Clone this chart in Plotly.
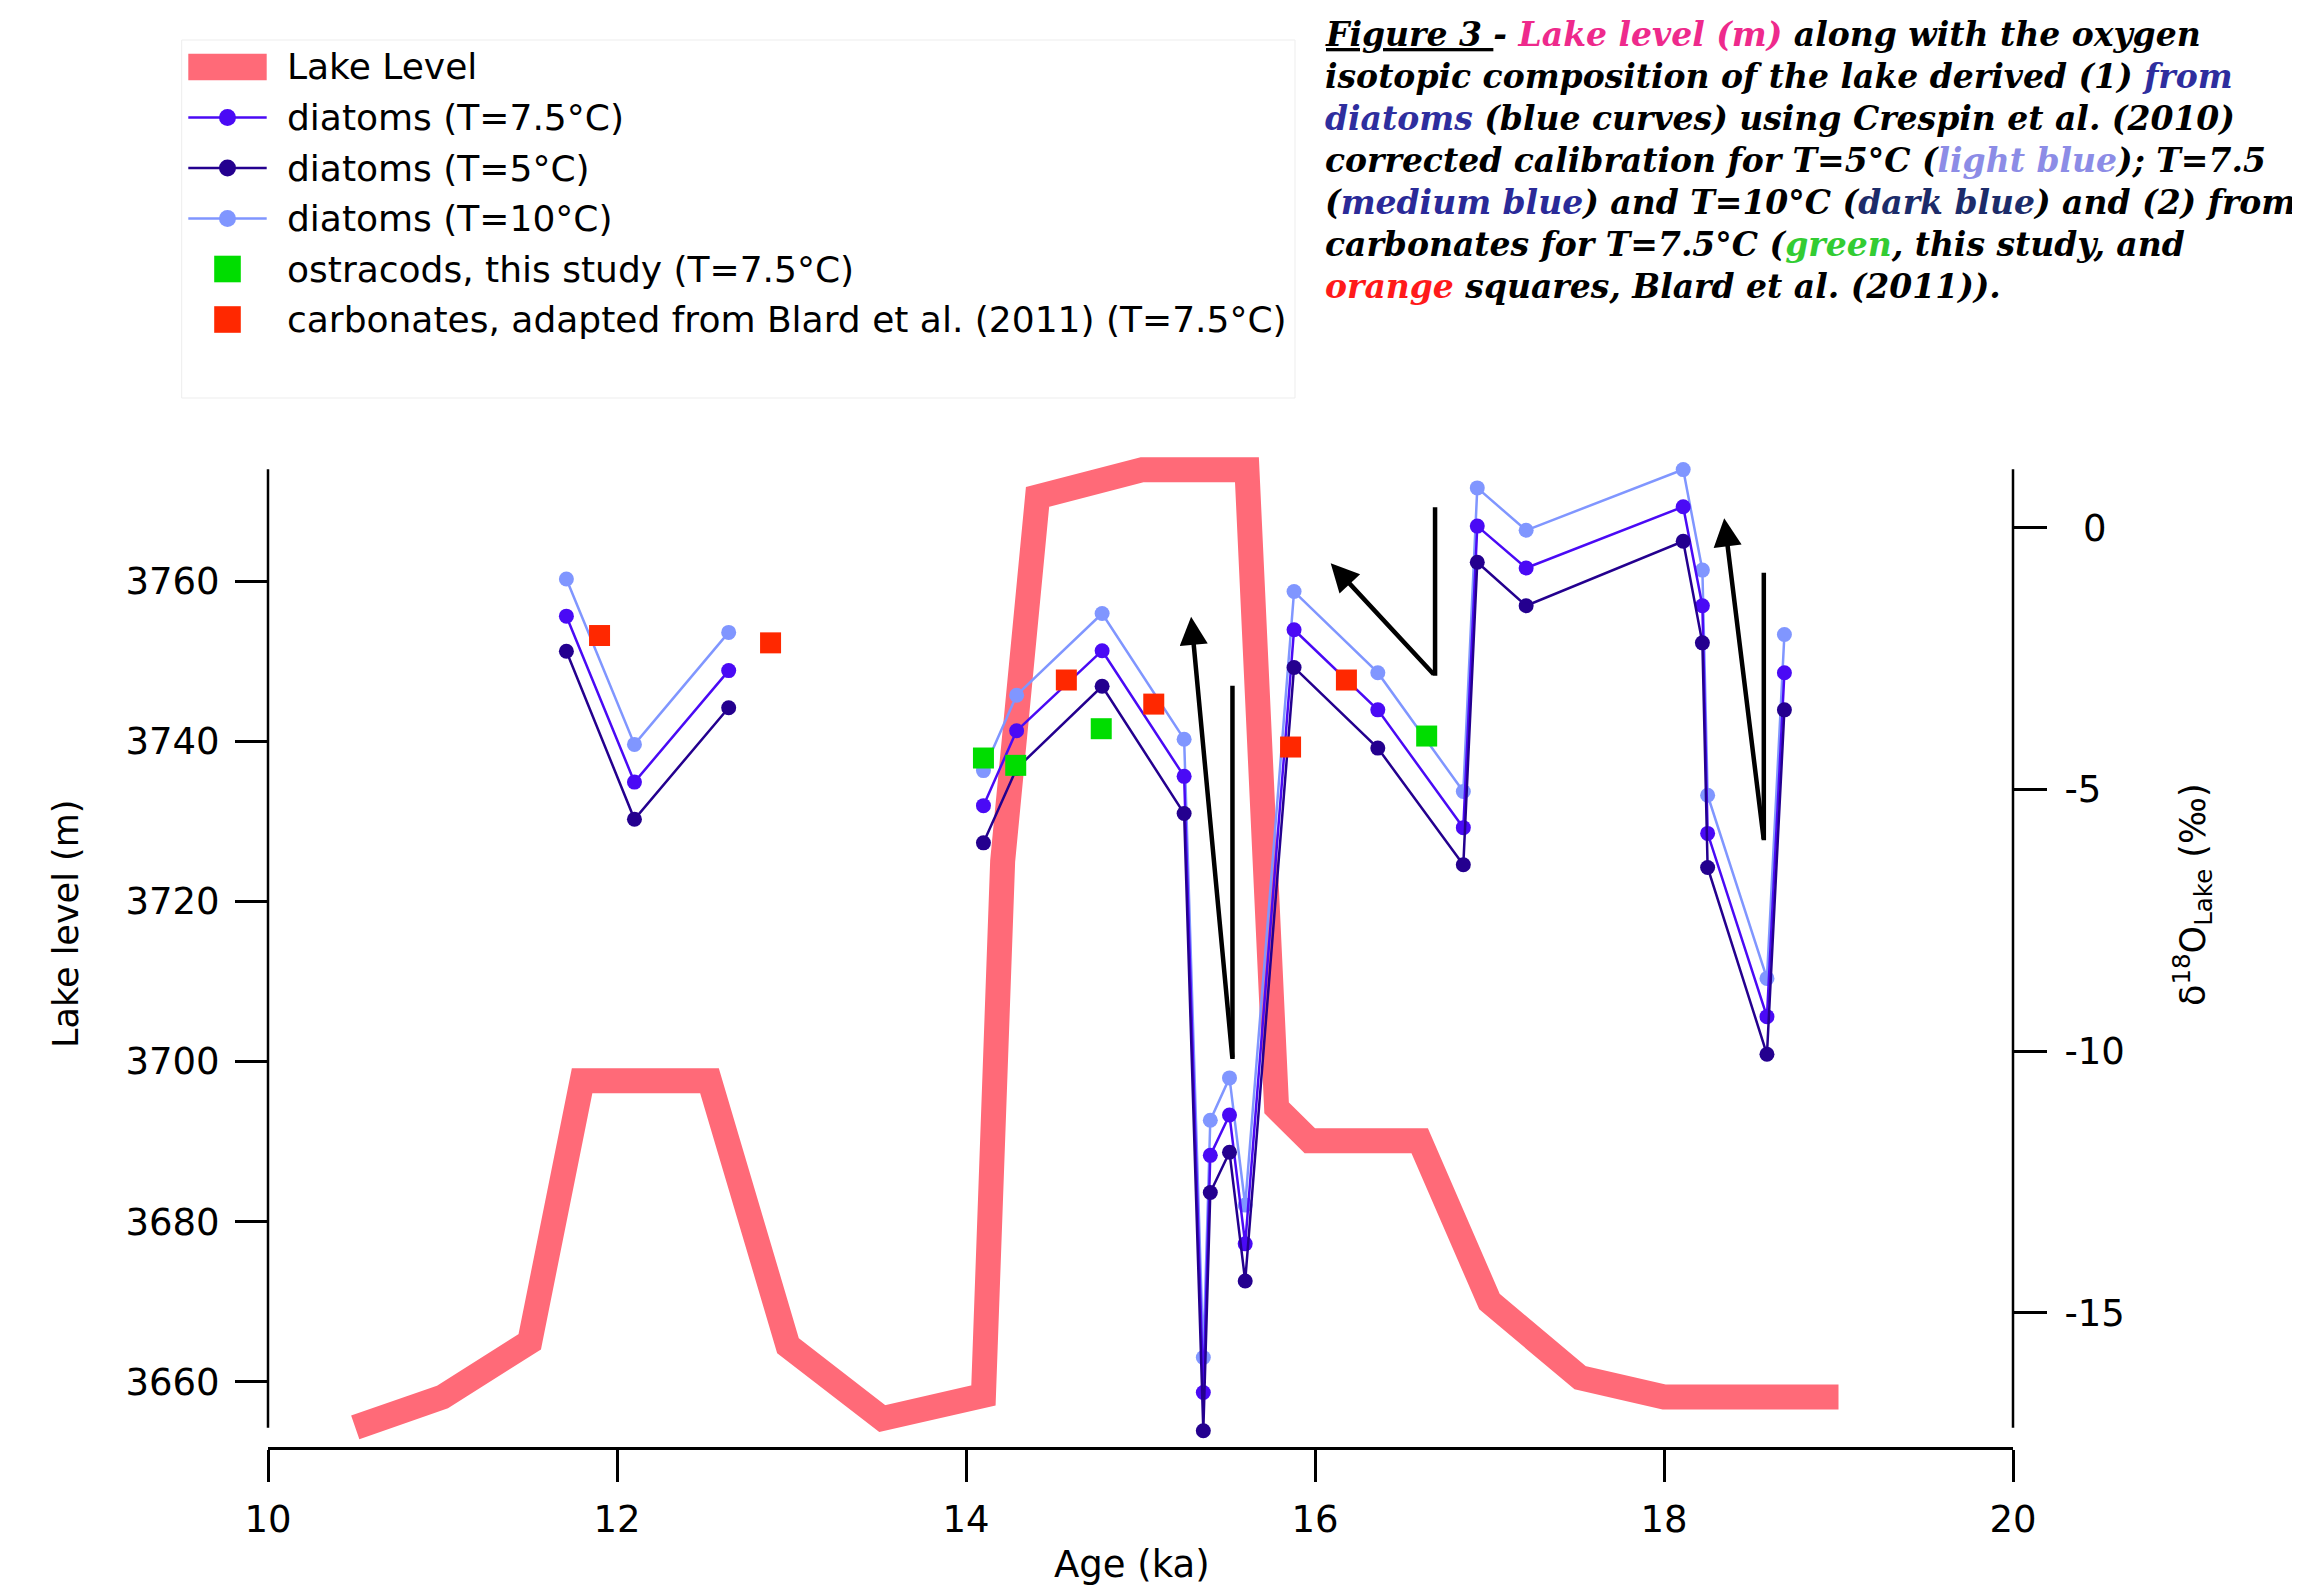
import plotly.graph_objects as go

# ---------------- data ----------------
lake_age = [10.50, 11.00, 11.50, 11.80, 12.53, 12.98, 13.52, 14.10, 14.21, 14.41,
            15.01, 15.61, 15.78, 15.97, 16.60, 17.00, 17.52, 18.00, 19.00]
lake_level = [3654.3, 3658.1, 3665.0, 3697.6, 3697.6, 3664.5, 3655.4, 3658.3, 3725.0, 3770.5,
              3773.9, 3773.9, 3694.2, 3690.1, 3690.1, 3670.0, 3660.5, 3658.1, 3658.1]

diatom_age = [11.71, 12.10, 12.64, None, 14.10, 14.29, 14.78, 15.25, 15.36, 15.40, 15.51,
              15.60, 15.88, 16.36, 16.85, 16.93, 17.21, 18.11, 18.22, 18.25, 18.59, 18.69]
d18o_T10 = [-0.98, -4.14, -2.00, None, -4.64, -3.20, -1.64, -4.04, -15.85, -11.32, -10.51,
            -12.94, -1.22, -2.77, -5.04, 0.76, -0.05, 1.11, -0.81, -5.11, -8.61, -2.04]
d18o_T75 = [-1.69, -4.86, -2.73, None, -5.31, -3.88, -2.35, -4.75, -16.52, -11.99, -11.22,
            -13.68, -1.95, -3.48, -5.73, 0.03, -0.77, 0.40, -1.49, -5.84, -9.34, -2.77]
d18o_T5 = [-2.36, -5.57, -3.44, None, -6.02, -4.60, -3.03, -5.46, -17.25, -12.70, -11.93,
           -14.39, -2.67, -4.21, -6.44, -0.66, -1.49, -0.26, -2.20, -6.49, -10.06, -3.48]

ostracod_age = [14.10, 14.285, 14.775, 16.64]
ostracod_d18o = [-4.40, -4.54, -3.84, -3.98]

carbonate_age = [11.90, 12.88, 14.575, 15.076, 15.86, 16.18]
carbonate_d18o = [-2.06, -2.20, -2.91, -3.37, -4.19, -2.91]

x_ticks = [10, 12, 14, 16, 18, 20]
lake_ticks = [3660, 3680, 3700, 3720, 3740, 3760]
d18o_ticks = [0, -5, -10, -15]
d18o_ticktext = ["\u20020", "-5", "-10", "-15"]

# check-mark arrows: (vertical line x, top, bottom, arrow head x, arrow head y)
arrow_marks = [
    (15.527, -3.02, -10.15, 15.29, -1.70),
    (16.688, 0.39, -2.83, 16.09, -0.68),
    (18.572, -0.86, -5.97, 18.345, 0.18),
]

legend_labels = ["Lake Level", "diatoms (T=7.5°C)", "diatoms (T=5°C)", "diatoms (T=10°C)",
                 "ostracods, this study (T=7.5°C)",
                 "carbonates, adapted from Blard et al. (2011) (T=7.5°C)"]

# ---------------- styles ----------------
LAKE_C = "#FF6A78"
C75 = "#4A0AF5"
C5 = "#24008F"
C10 = "#8096FF"
GREEN = "#00DD00"
RED = "#FF2800"

# the page body has an 8px margin: the figure is sized so that it ends at the window edge
OFF = 8
W, H = 2300 - OFF, 1585 - OFF
L, R, T, B = 268 - OFF, 287, 440 - OFF, 138
PW = W - L - R
PH = H - T - B


def px(x):
    """page pixel x -> paper coordinate"""
    return (x - OFF - L) / PW


def py(y):
    """page pixel y -> paper coordinate"""
    return (H - B - (y - OFF)) / PH


fig = go.Figure()

fig.add_trace(go.Scatter(x=lake_age, y=lake_level, mode="lines", name="Lake Level",
                         line=dict(color=LAKE_C, width=25), yaxis="y", showlegend=False))

for vals, col, nm in [(d18o_T10, C10, "diatoms (T=10°C)"),
                      (d18o_T75, C75, "diatoms (T=7.5°C)"),
                      (d18o_T5, C5, "diatoms (T=5°C)")]:
    fig.add_trace(go.Scatter(x=diatom_age, y=vals, mode="lines+markers", name=nm,
                             line=dict(color=col, width=2.5), marker=dict(color=col, size=15),
                             yaxis="y2", cliponaxis=False, connectgaps=False, showlegend=False))

fig.add_trace(go.Scatter(x=ostracod_age, y=ostracod_d18o, mode="markers",
                         name="ostracods, this study (T=7.5°C)",
                         marker=dict(symbol="square", color=GREEN, size=21),
                         yaxis="y2", cliponaxis=False, showlegend=False))
fig.add_trace(go.Scatter(x=carbonate_age, y=carbonate_d18o, mode="markers",
                         name="carbonates, adapted from Blard et al. (2011) (T=7.5°C)",
                         marker=dict(symbol="square", color=RED, size=21),
                         yaxis="y2", cliponaxis=False, showlegend=False))

shapes = []
annotations = []

# axis lines (y axes are drawn shorter than the plot area, like the original)
for xp in (0, 1):
    shapes.append(dict(type="line", xref="paper", yref="paper", x0=xp, x1=xp,
                       y0=py(1427.7), y1=py(469.3), line=dict(color="black", width=2.5)))

# arrows
for vx, vt, vb, hx, hy in arrow_marks:
    shapes.append(dict(type="line", xref="x", yref="y2", x0=vx, x1=vx, y0=vt, y1=vb,
                       line=dict(color="black", width=4.5)))
    annotations.append(dict(xref="x", yref="y2", axref="x", ayref="y2", x=hx, y=hy,
                            ax=vx, ay=vb, text="", showarrow=True, arrowhead=2,
                            arrowsize=1.25, arrowwidth=4.5, arrowcolor="black"))

# manual legend
shapes.append(dict(type="rect", xref="paper", yref="paper", x0=px(181.7), x1=px(1295),
                   y0=py(398), y1=py(40), line=dict(color="#EDEDED", width=1)))
rows = [67, 117.5, 168, 218.5, 269, 319.5]
sx0, sx1, scx = 188.3, 266.7, 227.5
shapes.append(dict(type="rect", xref="paper", yref="paper", x0=px(sx0), x1=px(sx1),
                   y0=py(rows[0] + 13.3), y1=py(rows[0] - 13.3),
                   fillcolor=LAKE_C, line=dict(width=0)))
for ry, col in zip(rows[1:4], [C75, C5, C10]):
    shapes.append(dict(type="line", xref="paper", yref="paper", x0=px(sx0), x1=px(sx1),
                       y0=py(ry), y1=py(ry), line=dict(color=col, width=2.5)))
    shapes.append(dict(type="circle", xref="paper", yref="paper", x0=px(scx - 8.5),
                       x1=px(scx + 8.5), y0=py(ry + 8.5), y1=py(ry - 8.5),
                       fillcolor=col, line=dict(width=0)))
for ry, col in zip(rows[4:], [GREEN, RED]):
    shapes.append(dict(type="rect", xref="paper", yref="paper", x0=px(scx - 13.3),
                       x1=px(scx + 13.3), y0=py(ry + 13.3), y1=py(ry - 13.3),
                       fillcolor=col, line=dict(width=0)))
for ry, lab in zip(rows, legend_labels):
    annotations.append(dict(xref="paper", yref="paper", x=px(285), y=py(ry),
                            xanchor="left", yanchor="middle", text=lab, showarrow=False,
                            font=dict(family="DejaVu Sans", size=36, color="black")))

# caption
cap_lines = [
    "<u>Figure 3 </u>- <span style='color:#EE2A8C'>Lake level (m)</span> along with the oxygen",
    "isotopic composition of the lake derived (1) <span style='color:#2E2E9E'>from</span>",
    "<span style='color:#2E2E9E'>diatoms</span> (blue curves) using Crespin et al. (2010)",
    "corrected calibration for T=5°C (<span style='color:#8C8CE6'>light blue</span>); T=7.5",
    "(<span style='color:#2A2A98'>medium blue</span>) and T=10°C (<span style='color:#1C2C6A'>dark blue</span>) and (2) from",
    "carbonates for T=7.5°C (<span style='color:#33CC33'>green</span>, this study, and",
    "<span style='color:#FF1A1A'>orange</span> squares, Blard et al. (2011)).",
]
CAP_S = 33
for i, ln in enumerate(cap_lines):
    base = 46 + 42 * i
    annotations.append(dict(xref="paper", yref="paper", x=px(1323), y=py(base - 0.346 * CAP_S),
                            xanchor="left", yanchor="middle", text=ln, showarrow=False,
                            font=dict(family="DejaVu Serif", size=CAP_S, color="black",
                                      weight="bold", style="italic")))

# axis titles
annotations.append(dict(xref="paper", yref="paper", x=px(66), y=py(924), text="Lake level (m)",
                        textangle=-90, showarrow=False, xanchor="center", yanchor="middle",
                        font=dict(family="DejaVu Sans", size=35, color="black")))
annotations.append(dict(xref="paper", yref="paper", x=px(2192), y=py(895),
                        text="δ<sup>18</sup>O<sub>Lake</sub> (‰)",
                        textangle=-90, showarrow=False, xanchor="center", yanchor="middle",
                        font=dict(family="DejaVu Sans", size=35, color="black")))
annotations.append(dict(xref="paper", yref="paper", x=px(1131.5), y=py(1564), text="Age (ka)",
                        showarrow=False, xanchor="center", yanchor="middle",
                        font=dict(family="DejaVu Sans", size=37, color="black")))

tickfont = dict(family="DejaVu Sans", size=37, color="black")
fig.update_layout(
    width=W, height=H,
    margin=dict(l=L, r=R, t=T, b=B, pad=0),
    paper_bgcolor="white", plot_bgcolor="white",
    showlegend=False,
    xaxis=dict(range=[10, 20], tickvals=x_ticks, ticks="outside", ticklen=32, tickwidth=2.5,
               tickcolor="black", showline=True, linewidth=2.5, linecolor="black",
               showgrid=False, zeroline=False, tickfont=tickfont, ticklabelstandoff=6),
    yaxis=dict(range=[3651.85, 3777.61], tickvals=lake_ticks, ticks="outside", ticklen=32,
               tickwidth=2.5, tickcolor="black", showline=False, showgrid=False,
               zeroline=False, tickfont=tickfont, ticklabelstandoff=8),
    yaxis2=dict(range=[-17.561, 1.675], tickvals=d18o_ticks, ticktext=d18o_ticktext,
                overlaying="y", side="right", ticks="outside", ticklen=33, tickwidth=2.5,
                tickcolor="black", showline=False, showgrid=False, zeroline=False,
                tickfont=tickfont, ticklabelstandoff=10),
    shapes=shapes,
    annotations=annotations,
)

fig.write_html("out.html")
